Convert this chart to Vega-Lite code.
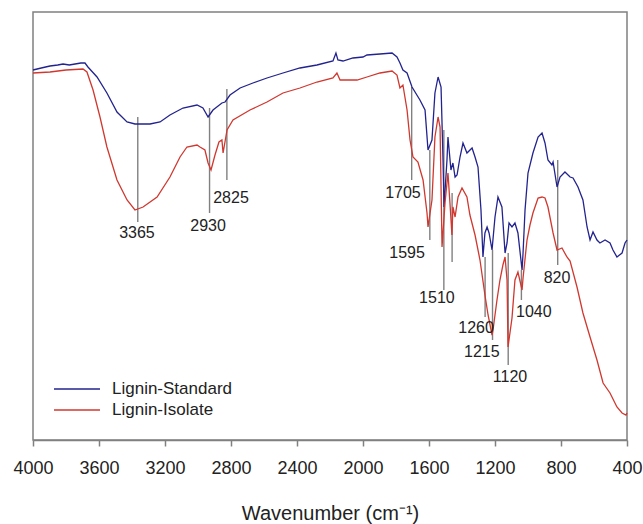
{
  "$schema": "https://vega.github.io/schema/vega-lite/v6.json",
  "width": 594,
  "height": 428,
  "padding": {"left": 33, "top": 12, "right": 16, "bottom": 84},
  "autosize": {"type": "none"},
  "config": {
    "font": "Liberation Sans",
    "view": {"stroke": "#808080", "strokeWidth": 1.5}
  },
  "data": {"values": [
    {"s":"Lignin-Standard","wn":4000,"t":370},{"s":"Lignin-Standard","wn":3950,"t":372},{"s":"Lignin-Standard","wn":3897,"t":374},{"s":"Lignin-Standard","wn":3850,"t":375},{"s":"Lignin-Standard","wn":3818,"t":376},{"s":"Lignin-Standard","wn":3780,"t":375},{"s":"Lignin-Standard","wn":3745,"t":376},{"s":"Lignin-Standard","wn":3710,"t":377},{"s":"Lignin-Standard","wn":3685,"t":377},{"s":"Lignin-Standard","wn":3667,"t":373},{"s":"Lignin-Standard","wn":3612,"t":363},{"s":"Lignin-Standard","wn":3552,"t":347},{"s":"Lignin-Standard","wn":3491,"t":328},{"s":"Lignin-Standard","wn":3430,"t":318},{"s":"Lignin-Standard","wn":3382,"t":316},{"s":"Lignin-Standard","wn":3291,"t":316},{"s":"Lignin-Standard","wn":3230,"t":318},{"s":"Lignin-Standard","wn":3170,"t":325},{"s":"Lignin-Standard","wn":3091,"t":332},{"s":"Lignin-Standard","wn":3006,"t":335},{"s":"Lignin-Standard","wn":2970,"t":332},{"s":"Lignin-Standard","wn":2939,"t":323},{"s":"Lignin-Standard","wn":2909,"t":330},{"s":"Lignin-Standard","wn":2855,"t":337},{"s":"Lignin-Standard","wn":2836,"t":338},{"s":"Lignin-Standard","wn":2806,"t":345},{"s":"Lignin-Standard","wn":2745,"t":352},{"s":"Lignin-Standard","wn":2667,"t":357},{"s":"Lignin-Standard","wn":2582,"t":362},{"s":"Lignin-Standard","wn":2485,"t":367},{"s":"Lignin-Standard","wn":2382,"t":372},{"s":"Lignin-Standard","wn":2279,"t":375},{"s":"Lignin-Standard","wn":2182,"t":379},{"s":"Lignin-Standard","wn":2164,"t":387},{"s":"Lignin-Standard","wn":2152,"t":380},{"s":"Lignin-Standard","wn":2121,"t":379},{"s":"Lignin-Standard","wn":2061,"t":382},{"s":"Lignin-Standard","wn":2000,"t":383},{"s":"Lignin-Standard","wn":1976,"t":385},{"s":"Lignin-Standard","wn":1897,"t":386},{"s":"Lignin-Standard","wn":1824,"t":387},{"s":"Lignin-Standard","wn":1794,"t":383},{"s":"Lignin-Standard","wn":1776,"t":377},{"s":"Lignin-Standard","wn":1758,"t":370},{"s":"Lignin-Standard","wn":1733,"t":367},{"s":"Lignin-Standard","wn":1703,"t":353},{"s":"Lignin-Standard","wn":1655,"t":340},{"s":"Lignin-Standard","wn":1624,"t":330},{"s":"Lignin-Standard","wn":1606,"t":290},{"s":"Lignin-Standard","wn":1582,"t":300},{"s":"Lignin-Standard","wn":1564,"t":347},{"s":"Lignin-Standard","wn":1545,"t":363},{"s":"Lignin-Standard","wn":1527,"t":353},{"s":"Lignin-Standard","wn":1515,"t":280},{"s":"Lignin-Standard","wn":1509,"t":233},{"s":"Lignin-Standard","wn":1491,"t":280},{"s":"Lignin-Standard","wn":1485,"t":303},{"s":"Lignin-Standard","wn":1467,"t":270},{"s":"Lignin-Standard","wn":1455,"t":277},{"s":"Lignin-Standard","wn":1442,"t":263},{"s":"Lignin-Standard","wn":1430,"t":265},{"s":"Lignin-Standard","wn":1412,"t":283},{"s":"Lignin-Standard","wn":1394,"t":297},{"s":"Lignin-Standard","wn":1370,"t":287},{"s":"Lignin-Standard","wn":1339,"t":292},{"s":"Lignin-Standard","wn":1321,"t":283},{"s":"Lignin-Standard","wn":1303,"t":273},{"s":"Lignin-Standard","wn":1285,"t":230},{"s":"Lignin-Standard","wn":1273,"t":183},{"s":"Lignin-Standard","wn":1261,"t":207},{"s":"Lignin-Standard","wn":1248,"t":213},{"s":"Lignin-Standard","wn":1236,"t":207},{"s":"Lignin-Standard","wn":1218,"t":190},{"s":"Lignin-Standard","wn":1200,"t":223},{"s":"Lignin-Standard","wn":1182,"t":243},{"s":"Lignin-Standard","wn":1158,"t":233},{"s":"Lignin-Standard","wn":1139,"t":187},{"s":"Lignin-Standard","wn":1127,"t":197},{"s":"Lignin-Standard","wn":1115,"t":217},{"s":"Lignin-Standard","wn":1097,"t":213},{"s":"Lignin-Standard","wn":1079,"t":217},{"s":"Lignin-Standard","wn":1061,"t":207},{"s":"Lignin-Standard","wn":1036,"t":170},{"s":"Lignin-Standard","wn":1030,"t":187},{"s":"Lignin-Standard","wn":1018,"t":230},{"s":"Lignin-Standard","wn":1000,"t":267},{"s":"Lignin-Standard","wn":970,"t":287},{"s":"Lignin-Standard","wn":939,"t":303},{"s":"Lignin-Standard","wn":915,"t":307},{"s":"Lignin-Standard","wn":897,"t":297},{"s":"Lignin-Standard","wn":879,"t":280},{"s":"Lignin-Standard","wn":855,"t":275},{"s":"Lignin-Standard","wn":848,"t":278},{"s":"Lignin-Standard","wn":824,"t":253},{"s":"Lignin-Standard","wn":806,"t":263},{"s":"Lignin-Standard","wn":776,"t":268},{"s":"Lignin-Standard","wn":745,"t":263},{"s":"Lignin-Standard","wn":727,"t":262},{"s":"Lignin-Standard","wn":697,"t":253},{"s":"Lignin-Standard","wn":667,"t":240},{"s":"Lignin-Standard","wn":642,"t":213},{"s":"Lignin-Standard","wn":624,"t":200},{"s":"Lignin-Standard","wn":606,"t":208},{"s":"Lignin-Standard","wn":582,"t":200},{"s":"Lignin-Standard","wn":564,"t":197},{"s":"Lignin-Standard","wn":533,"t":200},{"s":"Lignin-Standard","wn":503,"t":197},{"s":"Lignin-Standard","wn":485,"t":190},{"s":"Lignin-Standard","wn":461,"t":183},{"s":"Lignin-Standard","wn":430,"t":187},{"s":"Lignin-Standard","wn":412,"t":197},{"s":"Lignin-Standard","wn":400,"t":200},
    {"s":"Lignin-Isolate","wn":4000,"t":367},{"s":"Lignin-Isolate","wn":3897,"t":368},{"s":"Lignin-Isolate","wn":3800,"t":370},{"s":"Lignin-Isolate","wn":3697,"t":371},{"s":"Lignin-Isolate","wn":3673,"t":368},{"s":"Lignin-Isolate","wn":3636,"t":350},{"s":"Lignin-Isolate","wn":3594,"t":323},{"s":"Lignin-Isolate","wn":3552,"t":293},{"s":"Lignin-Isolate","wn":3491,"t":260},{"s":"Lignin-Isolate","wn":3430,"t":240},{"s":"Lignin-Isolate","wn":3382,"t":230},{"s":"Lignin-Isolate","wn":3333,"t":233},{"s":"Lignin-Isolate","wn":3248,"t":243},{"s":"Lignin-Isolate","wn":3170,"t":263},{"s":"Lignin-Isolate","wn":3109,"t":283},{"s":"Lignin-Isolate","wn":3067,"t":293},{"s":"Lignin-Isolate","wn":3006,"t":295},{"s":"Lignin-Isolate","wn":2988,"t":293},{"s":"Lignin-Isolate","wn":2958,"t":290},{"s":"Lignin-Isolate","wn":2939,"t":277},{"s":"Lignin-Isolate","wn":2921,"t":270},{"s":"Lignin-Isolate","wn":2897,"t":285},{"s":"Lignin-Isolate","wn":2873,"t":298},{"s":"Lignin-Isolate","wn":2855,"t":300},{"s":"Lignin-Isolate","wn":2848,"t":287},{"s":"Lignin-Isolate","wn":2824,"t":310},{"s":"Lignin-Isolate","wn":2788,"t":320},{"s":"Lignin-Isolate","wn":2685,"t":330},{"s":"Lignin-Isolate","wn":2582,"t":338},{"s":"Lignin-Isolate","wn":2485,"t":347},{"s":"Lignin-Isolate","wn":2382,"t":352},{"s":"Lignin-Isolate","wn":2279,"t":358},{"s":"Lignin-Isolate","wn":2182,"t":362},{"s":"Lignin-Isolate","wn":2158,"t":367},{"s":"Lignin-Isolate","wn":2139,"t":360},{"s":"Lignin-Isolate","wn":2036,"t":360},{"s":"Lignin-Isolate","wn":1976,"t":363},{"s":"Lignin-Isolate","wn":1897,"t":367},{"s":"Lignin-Isolate","wn":1824,"t":369},{"s":"Lignin-Isolate","wn":1794,"t":365},{"s":"Lignin-Isolate","wn":1776,"t":352},{"s":"Lignin-Isolate","wn":1758,"t":355},{"s":"Lignin-Isolate","wn":1733,"t":330},{"s":"Lignin-Isolate","wn":1715,"t":300},{"s":"Lignin-Isolate","wn":1697,"t":283},{"s":"Lignin-Isolate","wn":1667,"t":278},{"s":"Lignin-Isolate","wn":1636,"t":260},{"s":"Lignin-Isolate","wn":1612,"t":227},{"s":"Lignin-Isolate","wn":1606,"t":213},{"s":"Lignin-Isolate","wn":1582,"t":240},{"s":"Lignin-Isolate","wn":1564,"t":303},{"s":"Lignin-Isolate","wn":1545,"t":323},{"s":"Lignin-Isolate","wn":1533,"t":313},{"s":"Lignin-Isolate","wn":1521,"t":193},{"s":"Lignin-Isolate","wn":1503,"t":237},{"s":"Lignin-Isolate","wn":1485,"t":267},{"s":"Lignin-Isolate","wn":1473,"t":237},{"s":"Lignin-Isolate","wn":1461,"t":205},{"s":"Lignin-Isolate","wn":1455,"t":233},{"s":"Lignin-Isolate","wn":1442,"t":223},{"s":"Lignin-Isolate","wn":1424,"t":243},{"s":"Lignin-Isolate","wn":1400,"t":252},{"s":"Lignin-Isolate","wn":1370,"t":243},{"s":"Lignin-Isolate","wn":1352,"t":225},{"s":"Lignin-Isolate","wn":1321,"t":205},{"s":"Lignin-Isolate","wn":1291,"t":180},{"s":"Lignin-Isolate","wn":1261,"t":145},{"s":"Lignin-Isolate","wn":1242,"t":125},{"s":"Lignin-Isolate","wn":1218,"t":105},{"s":"Lignin-Isolate","wn":1212,"t":110},{"s":"Lignin-Isolate","wn":1188,"t":140},{"s":"Lignin-Isolate","wn":1170,"t":160},{"s":"Lignin-Isolate","wn":1152,"t":175},{"s":"Lignin-Isolate","wn":1139,"t":183},{"s":"Lignin-Isolate","wn":1127,"t":160},{"s":"Lignin-Isolate","wn":1121,"t":93},{"s":"Lignin-Isolate","wn":1097,"t":122},{"s":"Lignin-Isolate","wn":1079,"t":160},{"s":"Lignin-Isolate","wn":1061,"t":168},{"s":"Lignin-Isolate","wn":1036,"t":150},{"s":"Lignin-Isolate","wn":1030,"t":162},{"s":"Lignin-Isolate","wn":1006,"t":200},{"s":"Lignin-Isolate","wn":988,"t":215},{"s":"Lignin-Isolate","wn":970,"t":227},{"s":"Lignin-Isolate","wn":939,"t":242},{"s":"Lignin-Isolate","wn":915,"t":243},{"s":"Lignin-Isolate","wn":897,"t":242},{"s":"Lignin-Isolate","wn":879,"t":233},{"s":"Lignin-Isolate","wn":848,"t":207},{"s":"Lignin-Isolate","wn":824,"t":190},{"s":"Lignin-Isolate","wn":794,"t":192},{"s":"Lignin-Isolate","wn":764,"t":183},{"s":"Lignin-Isolate","wn":745,"t":179},{"s":"Lignin-Isolate","wn":703,"t":153},{"s":"Lignin-Isolate","wn":667,"t":127},{"s":"Lignin-Isolate","wn":624,"t":103},{"s":"Lignin-Isolate","wn":582,"t":80},{"s":"Lignin-Isolate","wn":545,"t":57},{"s":"Lignin-Isolate","wn":503,"t":47},{"s":"Lignin-Isolate","wn":461,"t":33},{"s":"Lignin-Isolate","wn":430,"t":27},{"s":"Lignin-Isolate","wn":406,"t":25},{"s":"Lignin-Isolate","wn":400,"t":27},
    {"s":"peak","wn":3365,"t":323,"bottom":218},
    {"s":"peak","wn":2930,"t":332,"bottom":227},
    {"s":"peak","wn":2825,"t":351,"bottom":260},
    {"s":"peak","wn":1705,"t":353,"bottom":260},
    {"s":"peak","wn":1595,"t":290,"bottom":200},
    {"s":"peak","wn":1510,"t":310,"bottom":150},
    {"s":"peak","wn":1460,"t":247,"bottom":178},
    {"s":"peak","wn":1260,"t":183,"bottom":123},
    {"s":"peak","wn":1215,"t":190,"bottom":100},
    {"s":"peak","wn":1120,"t":187,"bottom":75},
    {"s":"peak","wn":1040,"t":170,"bottom":140},
    {"s":"peak","wn":820,"t":280,"bottom":175},
    {"s":"label","label":"3365","wn":3370,"t":207},
    {"s":"label","label":"2930","wn":2939,"t":214},
    {"s":"label","label":"2825","wn":2800,"t":242},
    {"s":"label","label":"1705","wn":1758,"t":247},
    {"s":"label","label":"1595","wn":1733,"t":187},
    {"s":"label","label":"1510","wn":1552,"t":142},
    {"s":"label","label":"1260","wn":1315,"t":112},
    {"s":"label","label":"1215","wn":1280,"t":88},
    {"s":"label","label":"1120","wn":1109,"t":63},
    {"s":"label","label":"1040","wn":965,"t":128},
    {"s":"label","label":"820","wn":824,"t":162}
  ]},
  "encoding": {
    "x": {
      "field": "wn", "type": "quantitative",
      "scale": {"domain": [4000, 400], "nice": false},
      "axis": {
        "values": [4000, 3600, 3200, 2800, 2400, 2000, 1600, 1200, 800, 400],
        "format": "d",
        "grid": false,
        "title": "Wavenumber (cm⁻¹)",
        "titleFontSize": 20, "titleFontWeight": "normal",
        "titleColor": "#222222", "titlePadding": 26,
        "labelFontSize": 18, "labelColor": "#222222",
        "labelPadding": 13, "labelFlush": false,
        "domainColor": "#808080", "domainWidth": 1.5,
        "tickColor": "#808080", "tickWidth": 1.5, "tickSize": 6
      }
    },
    "y": {
      "field": "t", "type": "quantitative",
      "scale": {"domain": [0, 428], "nice": false},
      "axis": null
    }
  },
  "layer": [
    {
      "transform": [{"filter": "datum.s === 'peak'"}],
      "mark": {"type": "rule", "color": "#808080", "strokeWidth": 1.4},
      "encoding": {
        "y2": {"field": "bottom"}
      }
    },
    {
      "transform": [{"filter": "datum.s !== 'peak' && datum.s !== 'label'"}],
      "mark": {"type": "line", "strokeWidth": 1.3},
      "encoding": {
        "color": {
          "field": "s", "type": "nominal",
          "scale": {"domain": ["Lignin-Standard", "Lignin-Isolate"], "range": ["#23238f", "#d0382f"]},
          "legend": {
            "title": null, "orient": "none", "legendX": 33, "legendY": 366,
            "symbolType": "M-2.3,0H2.3", "symbolSize": 400, "symbolStrokeWidth": 1.5,
            "labelFontSize": 17, "labelColor": "#222222",
            "labelOffset": 24
          }
        }
      }
    },
    {
      "transform": [{"filter": "datum.s === 'label'"}],
      "mark": {"type": "text", "fontSize": 16, "color": "#222222", "baseline": "middle", "align": "center"},
      "encoding": {
        "text": {"field": "label", "type": "nominal"}
      }
    }
  ]
}
